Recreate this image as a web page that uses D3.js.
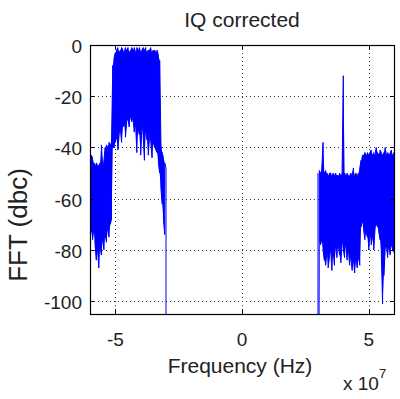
<!DOCTYPE html>
<html lang="en">
<head>
  <meta charset="UTF-8" />
  <title>IQ corrected</title>
  <style>
    html, body { margin: 0; padding: 0; background: #fff; }
    svg text { font-family: "Liberation Sans", Arial, sans-serif; fill: #222; }
  </style>
</head>
<body>
  <div id="chart"></div>

  <script src="https://d3js.org/d3.v7.min.js"></script>
  <script>
    // Spectrum, in MHz and dBc.
    // Peak = top of the noise trace, floor = bottom of the trace at that frequency.
    // -300 stands for "nothing there" (the trace drops off the bottom of the plot).
    const lowFreq = [
      -60, -59.5, -59, -58.5, -58, -57.5, -57, -56.5, -56, -55.5, -55, -54.5, -54, -53.5, -53, -52.5, -52, -51.5,
      -51, -50.5, -50, -49.5, -49, -48.5, -48, -47.5, -47, -46.5, -46, -45.5, -45, -44.5, -44, -43.5, -43, -42.5,
      -42, -41.5, -41, -40.5, -40, -39.5, -39, -38.5, -38, -37.5, -37, -36.5, -36, -35.5, -35, -34.5, -34, -33.5,
      -33, -32.5, -32, -31.5, -31, -30.5, -30
    ];
    const lowPeak = [
      -42, -43, -44, -46, -47, -46, -47, -47, -46, -39, -47, -45, -40, -39, -40, -38, -39, -37,
      -8, -5, -3, -2, -1, -3, -2, -1, -2, -3, -1, -2, -1, -3, -2, -1, -2, -1,
      -3, -1, -2, -1, -3, -2, -1, -2, -1, -3, -2, -2, -1, -3, -2, -2, -3, -2,
      -4, -6, -38, -42, -44, -46, -48
    ];
    const lowFloor = [
      -70, -73, -76, -72, -78, -84, -80, -87, -79, -82, -76, -80, -74, -77, -72, -75, -70, -68,
      -40, -40, -38, -36, -41, -35, -33, -38, -32, -31, -36, -30, -29, -32, -28, -30, -29, -34,
      -31, -42, -33, -35, -43, -32, -36, -45, -34, -37, -43, -36, -38, -44, -38, -40, -41, -42,
      -46, -50, -56, -62, -68, -74, -300
    ];

    const highFreq = [
      30, 30.5, 31, 31.5, 32, 32.5, 33, 33.5, 34, 34.5, 35, 35.5, 36, 36.5, 37, 37.5, 38, 38.5, 39, 39.5,
      40, 40.5, 41, 41.5, 42, 42.5, 43, 43.5, 44, 44.5, 45, 45.5, 46, 46.5, 47, 47.5, 48, 48.5, 49, 49.5,
      50, 50.5, 51, 51.5, 52, 52.5, 53, 53.5, 54, 54.5, 55, 55.5, 56, 56.5, 57, 57.5, 58, 58.5, 59, 59.5, 60
    ];
    const highPeak = [
      -50, -49, -50, -48, -38, -50, -49, -50, -51, -50, -50, -51, -50, -51, -50, -51, -51, -50, -51, -50,
      -12, -50, -51, -50, -51, -51, -50, -51, -48, -51, -50, -51, -50, -48, -45, -43, -43, -42, -43, -42,
      -43, -42, -41, -43, -42, -43, -40, -42, -43, -41, -42, -43, -42, -40, -43, -42, -43, -42, -41, -43, -42
    ];
    const highFloor = [
      -300, -77, -78, -76, -80, -84, -86, -81, -87, -83, -80, -88, -81, -86, -79, -83, -78, -82, -85, -77,
      -80, -83, -78, -84, -80, -86, -83, -88, -84, -89, -84, -87, -83, -86, -71, -69, -72, -76, -73, -75,
      -80, -74, -78, -75, -80, -72, -70, -71, -73, -76, -82, -101, -90, -80, -78, -83, -79, -82, -78, -80, -81
    ];

    const xTicks = [-5e7, 0, 5e7];
    const yTicks = [0, -20, -40, -60, -80, -100];

    // Layout
    const width = 400, height = 399;
    const margin = { top: 45, right: 6, bottom: 85, left: 90 };
    const innerW = width - margin.left - margin.right;
    const innerH = height - margin.top - margin.bottom;
    const traceColor = "#0000ff";

    const svg = d3.select("#chart")
      .append("svg")
      .attr("width", width)
      .attr("height", height);

    svg.append("rect").attr("width", width).attr("height", height).attr("fill", "#fff");

    const g = svg.append("g").attr("transform", `translate(${margin.left},${margin.top})`);

    const x = d3.scaleLinear().domain([-6e7, 6e7]).range([0, innerW]);
    const y = d3.scaleLinear().domain([-105, 0]).range([innerH, 0]);

    // Dotted grid
    const grid = g.append("g").attr("stroke", "#333").attr("stroke-width", 1)
      .attr("stroke-dasharray", "1,3");
    grid.selectAll(".gx").data(xTicks).enter().append("line")
      .attr("x1", d => Math.round(x(d)) + 0.5).attr("x2", d => Math.round(x(d)) + 0.5)
      .attr("y1", 0).attr("y2", innerH);
    grid.selectAll(".gy").data(yTicks).enter().append("line")
      .attr("y1", d => Math.round(y(d)) + 0.5).attr("y2", d => Math.round(y(d)) + 0.5)
      .attr("x1", 0).attr("x2", innerW);

    // Clip the trace to the axes box
    svg.append("defs").append("clipPath").attr("id", "plotClip")
      .append("rect").attr("width", innerW).attr("height", innerH);

    // Turn peak/floor pairs into one zig-zag trace, like a dense FFT plot
    function zigzag(freq, peak, floor) {
      const pts = [];
      freq.forEach((f, i) => {
        const a = [f * 1e6, peak[i]], b = [f * 1e6, floor[i]];
        if (i % 2 === 0) pts.push(a, b); else pts.push(b, a);
      });
      return pts;
    }

    const line = d3.line().x(d => x(d[0])).y(d => y(d[1]));
    const area = d3.area()
      .defined(d => d.lo > -200)
      .x(d => x(d.f * 1e6))
      .y0(d => y(d.lo))
      .y1(d => y(d.hi));

    const trace = g.append("g").attr("clip-path", "url(#plotClip)");
    [[lowFreq, lowPeak, lowFloor], [highFreq, highPeak, highFloor]].forEach(([freq, peak, floor]) => {
      const rows = freq.map((f, i) => ({ f, hi: peak[i], lo: floor[i] }));
      // solid body of the noise band
      trace.append("path")
        .attr("d", area(rows))
        .attr("fill", traceColor)
        .attr("stroke", "none");
      // the trace itself, with its spikes and drop-offs
      trace.append("path")
        .attr("d", line(zigzag(freq, peak, floor)))
        .attr("fill", "none")
        .attr("stroke", traceColor)
        .attr("stroke-width", 1);
    });

    // Box with inward ticks on all four sides
    g.append("rect").attr("x", 0.5).attr("y", 0.5).attr("width", innerW).attr("height", innerH)
      .attr("fill", "none").attr("stroke", "#000").attr("stroke-width", 1.2);

    const tickLen = 4;
    const ticks = g.append("g").attr("stroke", "#000").attr("stroke-width", 1);
    xTicks.forEach(d => {
      const px = Math.round(x(d)) + 0.5;
      ticks.append("line").attr("x1", px).attr("x2", px).attr("y1", innerH).attr("y2", innerH - tickLen);
      ticks.append("line").attr("x1", px).attr("x2", px).attr("y1", 0).attr("y2", tickLen);
    });
    yTicks.forEach(d => {
      const py = Math.round(y(d)) + 0.5;
      ticks.append("line").attr("x1", 0).attr("x2", tickLen).attr("y1", py).attr("y2", py);
      ticks.append("line").attr("x1", innerW).attr("x2", innerW - tickLen).attr("y1", py).attr("y2", py);
    });

    // Tick labels
    g.selectAll(".xl").data(xTicks).enter().append("text")
      .attr("x", d => x(d))
      .attr("y", innerH + 32)
      .attr("text-anchor", "middle")
      .style("font-size", "19px")
      .text(d => d / 1e7);

    g.selectAll(".yl").data(yTicks).enter().append("text")
      .attr("x", -8)
      .attr("y", d => y(d) + 8)
      .attr("text-anchor", "end")
      .style("font-size", "19px")
      .text(d => d);

    // Title and axis labels
    svg.append("text")
      .attr("x", margin.left + innerW / 2)
      .attr("y", 27)
      .attr("text-anchor", "middle")
      .style("font-size", "21px")
      .text("IQ corrected");

    svg.append("text")
      .attr("x", margin.left + innerW / 2 - 2)
      .attr("y", 373)
      .attr("text-anchor", "middle")
      .style("font-size", "21px")
      .text("Frequency (Hz)");

    svg.append("text")
      .attr("transform", "translate(27,225) rotate(-90)")
      .attr("text-anchor", "middle")
      .style("font-size", "26px")
      .text("FFT (dbc)");

    // Exponent for the x axis
    const expo = svg.append("text")
      .attr("x", 343)
      .attr("y", 390)
      .style("font-size", "19px");
    expo.append("tspan").text("x 10");
    expo.append("tspan").attr("dy", -12).style("font-size", "13px").text("7");
  </script>
</body>
</html>
